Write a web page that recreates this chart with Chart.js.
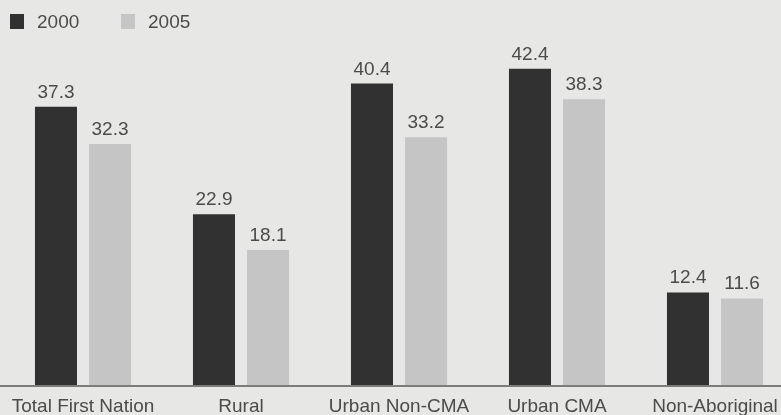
<!DOCTYPE html>
<html>
<head>
<meta charset="utf-8">
<script src="https://cdn.jsdelivr.net/npm/chart.js@4.4.1/dist/chart.umd.min.js"></script>
<style>
html,body{margin:0;padding:0;background:#e7e7e5;overflow:hidden;width:781px;height:415px;}
canvas{display:block;}
</style>
</head>
<body>
<canvas id="c" width="798" height="415"></canvas>
<script>
const categories = ["Total First Nation", "Rural", "Urban Non-CMA", "Urban CMA", "Non-Aboriginal"];
const seriesNames = ["2000", "2005"];
const values2000 = [37.3, 22.9, 40.4, 42.4, 12.4];
const values2005 = [32.3, 18.1, 33.2, 38.3, 11.6];

const DARK = "#313131";
const LIGHT = "#c5c5c5";
const TEXT = "#4b4b4b";
const FONT = "'Liberation Sans', Arial, sans-serif";

const bgPlugin = {
  id: "bg",
  beforeDraw(chart) {
    const ctx = chart.ctx;
    ctx.save();
    ctx.fillStyle = "#e7e7e5";
    ctx.fillRect(0, 0, chart.width, chart.height);
    ctx.restore();
  }
};

const baselinePlugin = {
  id: "baseline",
  afterDatasetsDraw(chart) {
    const ctx = chart.ctx;
    const y = chart.scales.y.getPixelForValue(0);
    ctx.save();
    ctx.strokeStyle = "#7c7c7c";
    ctx.lineWidth = 2;
    ctx.beginPath();
    ctx.moveTo(0, y + 1);
    ctx.lineTo(chart.width, y + 1);
    ctx.stroke();
    ctx.restore();
  }
};

const labelPlugin = {
  id: "vals",
  afterDatasetsDraw(chart) {
    const ctx = chart.ctx;
    ctx.save();
    ctx.font = "19px " + FONT;
    ctx.fillStyle = TEXT;
    ctx.textAlign = "center";
    ctx.textBaseline = "alphabetic";
    chart.data.datasets.forEach((ds, i) => {
      chart.getDatasetMeta(i).data.forEach((bar, j) => {
        ctx.fillText(ds.data[j].toFixed(1), bar.x, bar.y - 9);
      });
    });
    ctx.restore();
  }
};

const legendPlugin = {
  id: "customLegend",
  afterDraw(chart) {
    const ctx = chart.ctx;
    ctx.save();
    ctx.font = "19px " + FONT;
    ctx.textBaseline = "alphabetic";
    ctx.textAlign = "left";
    const starts = [10, 121];
    chart.data.datasets.forEach((ds, i) => {
      const x = starts[i];
      ctx.fillStyle = ds.backgroundColor;
      ctx.fillRect(x, 14, 14, 15);
      ctx.fillStyle = TEXT;
      ctx.fillText(ds.label, x + 27, 28);
    });
    ctx.restore();
  }
};

new Chart(document.getElementById("c"), {
  type: "bar",
  data: {
    labels: categories,
    datasets: [
      { label: seriesNames[0], data: values2000, backgroundColor: DARK },
      { label: seriesNames[1], data: values2005, backgroundColor: LIGHT }
    ]
  },
  options: {
    responsive: false,
    animation: false,
    devicePixelRatio: 1,
    layout: { padding: { left: 4, right: 4, top: 12, bottom: 0 } },
    plugins: { legend: { display: false }, tooltip: { enabled: false } },
    datasets: { bar: { categoryPercentage: 0.684, barPercentage: 0.778 } },
    scales: {
      x: {
        grid: { display: false, drawTicks: false },
        border: { display: false },
        ticks: { color: TEXT, font: { size: 19, family: FONT }, padding: 10, maxRotation: 0, autoSkip: false },
        afterFit(scale) { scale.height = 30; }
      },
      y: { display: false, min: 0, max: 50 }
    }
  },
  plugins: [bgPlugin, baselinePlugin, labelPlugin, legendPlugin]
});
</script>
</body>
</html>
